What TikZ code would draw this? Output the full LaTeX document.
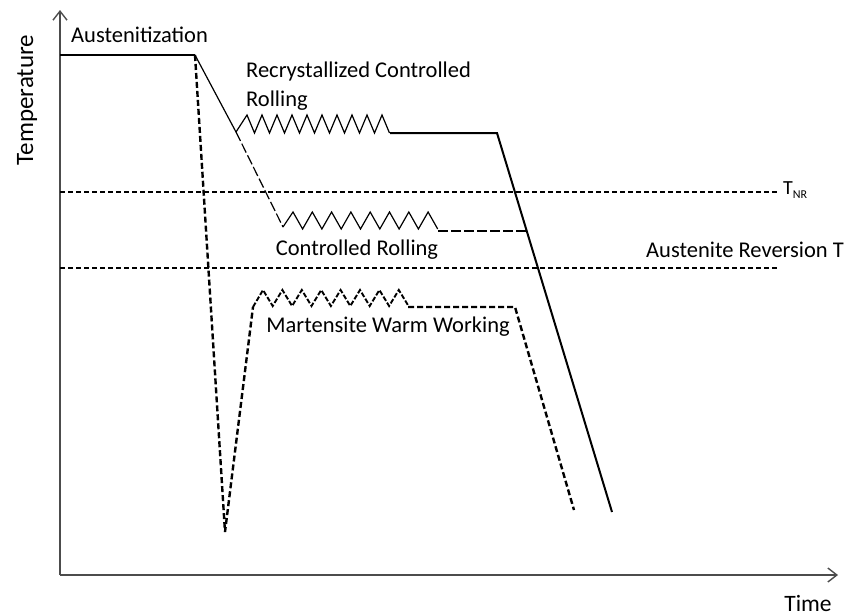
\documentclass[tikz,border=0pt]{standalone}
\usepackage{fontspec}
\setmainfont{Carlito}
\usetikzlibrary{arrows.meta}
\begin{document}
\begin{tikzpicture}[x=1pt,y=-1pt,
    lbl/.style={font=\fontsize{22.5}{29}\selectfont, inner sep=0pt},
    axis/.style={line width=1.4pt, draw=black!70, -{Straight Barb[length=9pt,width=14pt]}},
    refline/.style={line width=1.3pt, dash pattern=on 5pt off 3pt},
    hotpath/.style={line width=1.2pt, dash pattern=on 10pt off 3pt},
    martpath/.style={line width=2.4pt, dash pattern=on 6pt off 3pt},
    coolpath/.style={line width=2pt},
    zig/.style={line width=1.2pt}]
    \useasboundingbox (0,0) rectangle (852,616);

    % axes
    \coordinate (o) at (60,575);
    \coordinate (ytop) at (60,10);
    \coordinate (xend) at (838,575);
    \draw[axis] (o) -- (ytop);
    \draw[axis] (o) -- (xend);
    \node[lbl, font=\fontsize{25}{29}\selectfont, rotate=90] (temp) at (27,100) {Temperature};
    \node[lbl, font=\fontsize{23.5}{29}\selectfont] (time) at (808,603) {Time};

    % reference temperatures
    \coordinate (tnrl) at (60,192);
    \coordinate (tnrr) at (778,192);
    \coordinate (arl) at (60,268);
    \coordinate (arr) at (778,268);
    \draw[refline] (tnrl) -- (tnrr);
    \draw[refline] (arl) -- (arr);
    \node[lbl, font=\fontsize{20}{24}\selectfont, anchor=west] (tnr) at (783,190)
        {T\raisebox{-0.35ex}{\fontsize{12}{14}\selectfont NR}};
    \node[lbl] (arev) at (745,250) {Austenite Reversion T};

    % austenitization
    \coordinate (a0) at (60,55);
    \coordinate (a1) at (195,55);
    \draw[coolpath, line width=2.4pt] (a0) -- (a1);
    \node[lbl, anchor=west] (aust) at (71,35) {Austenitization};

    % recrystallized controlled rolling
    \coordinate (r0) at (236,132);
    \coordinate (r1) at (390,133);
    \coordinate (r2) at (497,133);
    \coordinate (r3) at (612,512);
    \draw[zig] (a1) -- (r0);
    \draw[zig] (r0) \foreach \i in {0,...,9} { -- ({247+15*\i},115) -- ({254.5+15*\i},133) };
    \draw[coolpath] (r1) -- (r2) -- (r3);
    \node[lbl, align=left, anchor=north west] (rcr) at (246,62) {Recrystallized Controlled\\Rolling};

    % controlled rolling
    \coordinate (c0) at (283,227);
    \coordinate (c1) at (438,231);
    \coordinate (c2) at (527,231);
    \draw[hotpath] (r0) -- (c0);
    \draw[zig] (c0) \foreach \i in {0,...,7} { -- ({293+19.3*\i},212) -- ({302.6+19.3*\i},229) };
    \draw[hotpath] (c1) -- (c2);
    \node[lbl] (cr) at (357,250) {Controlled Rolling};

    % martensite warm working
    \coordinate (m0) at (225,532);
    \coordinate (m1) at (253,307);
    \coordinate (m2) at (408,307);
    \coordinate (m3) at (515,307);
    \coordinate (m4) at (574,510);
    \draw[martpath] (a1) -- (m0) -- (m1);
    \draw[martpath, line width=1.9pt, dash pattern=on 5pt off 2pt] (m1)
        \foreach \i in {0,...,7} { -- ({263+19.4*\i},290) -- ({272.7+19.4*\i},306) };
    \draw[martpath] (m2) -- (m3) -- (m4);
    \node[lbl] (mww) at (388,327) {Martensite Warm Working};
\end{tikzpicture}
\end{document}
